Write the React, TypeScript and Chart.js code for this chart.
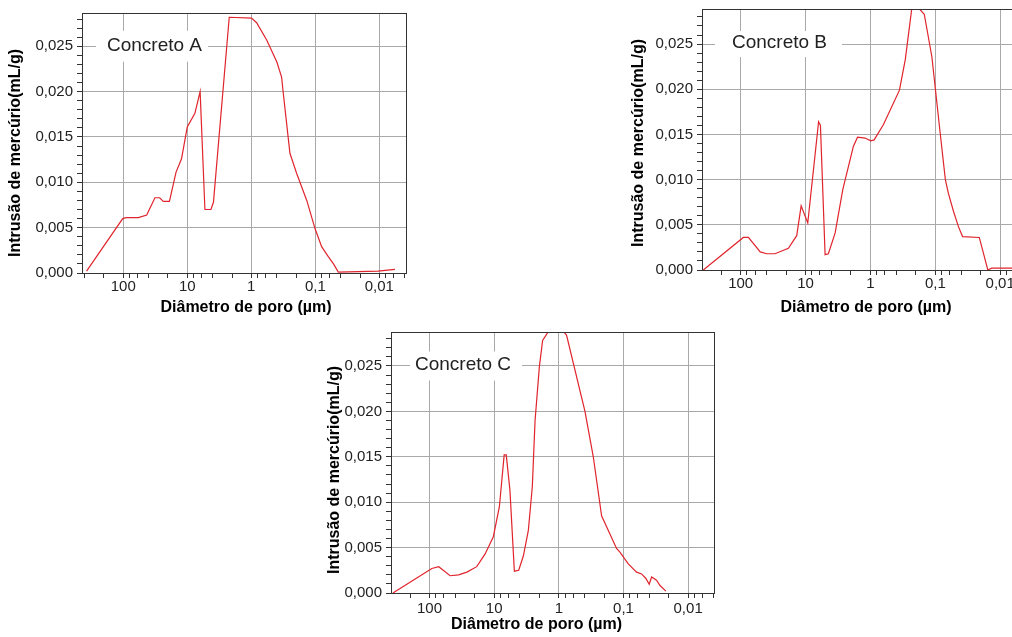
import React, { useEffect, useRef } from 'react';
import { Chart, registerables } from 'chart.js';

Chart.register(...registerables);

const FONT = '"Liberation Sans", Arial, Helvetica, sans-serif';
const AXIS = '#333333';
const GRID = '#a9a9a9';
const TEXT = '#222222';
const LINE = '#e0242c';

// Axis tick labels
const X_TICK_VALUES = [100, 10, 1, 0.1, 0.01];
const X_TICK_LABELS = ['100', '10', '1', '0,1', '0,01'];
const X_MINOR_MULTIPLES = [1, 2, 4, 6, 8];
const Y_TICK_VALUES = [0, 0.005, 0.01, 0.015, 0.02, 0.025];
const Y_TICK_LABELS = ['0,000', '0,005', '0,010', '0,015', '0,020', '0,025'];
const Y_MINOR_STEP = 0.001;

const X_TITLE = 'Diâmetro de poro (µm)';
const Y_TITLE = 'Intrusão de mercúrio(mL/g)';
const LABEL_LEVEL = 0.025;

// Concreto A
const A_DIAM = [374, 102, 90, 58, 43, 32, 27, 23.7, 19, 15, 12.3, 10, 7.6, 6.3, 5.3, 4.27, 3.9, 2.21, 0.99, 0.826, 0.575, 0.40, 0.336, 0.316, 0.249, 0.196, 0.136, 0.101, 0.0796, 0.0627, 0.052, 0.0437, 0.0105, 0.0057];
const A_INTR = [0.0002, 0.0060, 0.0061, 0.0061, 0.0064, 0.0083, 0.0083, 0.0079, 0.0079, 0.0111, 0.0126, 0.0161, 0.0176, 0.0200, 0.0070, 0.0070, 0.0078, 0.0282, 0.0281, 0.0276, 0.0257, 0.0233, 0.0216, 0.0198, 0.0132, 0.0110, 0.0080, 0.0049, 0.0029, 0.0018, 0.0010, 0.0001, 0.0002, 0.0004];

// Concreto B
const B_DIAM = [377, 91, 76, 50, 39.7, 29.6, 18.4, 13.7, 11.7, 9.25, 6.3, 5.9, 5.0, 4.45, 3.5, 2.67, 1.83, 1.58, 1.21, 0.99, 0.877, 0.63, 0.357, 0.29, 0.23, 0.182, 0.148, 0.113, 0.084, 0.07, 0.063, 0.0525, 0.044, 0.038, 0.021, 0.0155, 0.0135, 0.004];
const B_INTR = [0, 0.0036, 0.0036, 0.0020, 0.0018, 0.0018, 0.0024, 0.0038, 0.0071, 0.0052, 0.0164, 0.0160, 0.0017, 0.0018, 0.0041, 0.0089, 0.0137, 0.0147, 0.0146, 0.0143, 0.0144, 0.0161, 0.0199, 0.0233, 0.0290, 0.0290, 0.0283, 0.0236, 0.0151, 0.0100, 0.0085, 0.0065, 0.0048, 0.0037, 0.0036, 0, 0.0002, 0.0002];

// Concreto C
const C_DIAM = [368, 92, 72, 48, 35.5, 26.4, 18.6, 13.8, 10.3, 8.3, 7.0, 6.5, 5.7, 4.87, 4.17, 3.53, 2.96, 2.57, 2.33, 2.0, 1.78, 1.45, 0.851, 0.76, 0.394, 0.293, 0.218, 0.128, 0.1135, 0.0843, 0.0627, 0.0525, 0.045, 0.04, 0.0367, 0.0308, 0.0274, 0.0221];
const C_INTR = [0, 0.0027, 0.0029, 0.0019, 0.0020, 0.0023, 0.0029, 0.0043, 0.0062, 0.0095, 0.0152, 0.0152, 0.0113, 0.0024, 0.0025, 0.0041, 0.0069, 0.0117, 0.0190, 0.0249, 0.0278, 0.0288, 0.0288, 0.0284, 0.0200, 0.0150, 0.0085, 0.0049, 0.0045, 0.0032, 0.0023, 0.0021, 0.0016, 0.00096, 0.00176, 0.0014, 0.00085, 0.0002];

type Cfg = {
  name: string;
  diam: number[];
  intr: number[];
  dMin: number;
  dMax: number;
  yMax: number;
  canvas: { left: number; top: number; w: number; h: number };
  yW: number;
  xH: number;
  padTop: number;
  padRight: number;
  tickPadX: number;
  box: { dx: number; w: number; h: number };
  textDx: number;
  xTitle: { dx: number; dy: number };
  yTitle: { dx: number; dy: number };
};

const CHARTS: Cfg[] = [
  {
    name: 'Concreto A', diam: A_DIAM, intr: A_INTR,
    dMin: 0.00383, dMax: 441, yMax: 0.02867,
    canvas: { left: 0, top: 0, w: 420, h: 322 },
    yW: 82, xH: 49, padTop: 13, padRight: 14, tickPadX: 0,
    box: { dx: 14, w: 112, h: 31 }, textDx: 25,
    xTitle: { dx: 2, dy: 35 }, yTitle: { dx: -66, dy: 10 },
  },
  {
    name: 'Concreto B', diam: B_DIAM, intr: B_INTR,
    dMin: 0.004, dMax: 395, yMax: 0.02888,
    canvas: { left: 620, top: -10, w: 420, h: 330 },
    yW: 82, xH: 50, padTop: 19, padRight: 14, tickPadX: 0,
    box: { dx: 13, w: 127, h: 26 }, textDx: 30,
    xTitle: { dx: 2, dy: 37.5 }, yTitle: { dx: -63, dy: 3.5 },
  },
  {
    name: 'Concreto C', diam: C_DIAM, intr: C_INTR,
    dMin: 0.00398, dMax: 394, yMax: 0.02874,
    canvas: { left: 300, top: 315, w: 430, h: 322 },
    yW: 91, xH: 44, padTop: 17, padRight: 16, tickPadX: 2,
    box: { dx: 19, w: 112, h: 29 }, textDx: 24,
    xTitle: { dx: -16, dy: 32 }, yTitle: { dx: -56, dy: 7.5 },
  },
];

const xIndex = (v: number) =>
  X_TICK_VALUES.findIndex((t) => Math.abs(Math.log10(t) - Math.log10(v)) < 1e-6);
const yIndex = (v: number) => Y_TICK_VALUES.findIndex((t) => Math.abs(t - v) < 1e-9);

function PoreChart({ cfg }: { cfg: Cfg }) {
  const ref = useRef<HTMLCanvasElement | null>(null);

  useEffect(() => {
    const canvas = ref.current;
    if (!canvas) return;

    const points = cfg.diam.map((d, i) => ({ x: d, y: cfg.intr[i] }));

    const xTicks: number[] = [];
    for (let k = -3; k <= 3; k++) {
      for (const m of X_MINOR_MULTIPLES) {
        const v = m * Math.pow(10, k);
        if (v >= cfg.dMin && v <= cfg.dMax) xTicks.push(v);
      }
    }
    xTicks.sort((a, b) => a - b);

    const yTicks: number[] = [];
    for (let i = 0; i * Y_MINOR_STEP <= cfg.yMax + 1e-12; i++) {
      yTicks.push(Math.round(i * Y_MINOR_STEP * 1e6) / 1e6);
    }

    const decor = {
      id: 'decor',
      beforeDatasetsDraw(chart: any) {
        const { ctx, chartArea, scales } = chart;
        const yc = scales.y.getPixelForValue(LABEL_LEVEL);
        ctx.save();
        ctx.fillStyle = '#ffffff';
        ctx.fillRect(chartArea.left + cfg.box.dx, yc - cfg.box.h / 2, cfg.box.w, cfg.box.h);
        ctx.fillStyle = TEXT;
        ctx.font = `19px ${FONT}`;
        ctx.textAlign = 'left';
        ctx.textBaseline = 'middle';
        ctx.fillText(cfg.name, chartArea.left + cfg.textDx, yc - 1);
        ctx.restore();
      },
      afterDatasetsDraw(chart: any) {
        const { ctx, chartArea: a } = chart;
        ctx.save();
        ctx.strokeStyle = AXIS;
        ctx.lineWidth = 1;
        ctx.strokeRect(
          Math.round(a.left) + 0.5,
          Math.round(a.top) + 0.5,
          Math.round(a.right - a.left),
          Math.round(a.bottom - a.top)
        );
        ctx.restore();
      },
      afterDraw(chart: any) {
        const { ctx, chartArea: a } = chart;
        ctx.save();
        ctx.fillStyle = '#000000';
        ctx.font = `bold 16px ${FONT}`;
        ctx.textAlign = 'center';
        ctx.textBaseline = 'middle';
        ctx.fillText(X_TITLE, (a.left + a.right) / 2 + cfg.xTitle.dx, a.bottom + cfg.xTitle.dy);
        ctx.translate(a.left + cfg.yTitle.dx, (a.top + a.bottom) / 2 + cfg.yTitle.dy);
        ctx.rotate(-Math.PI / 2);
        ctx.fillText(Y_TITLE, 0, 0);
        ctx.restore();
      },
    };

    const chart = new Chart(canvas, {
      type: 'line',
      data: {
        datasets: [
          {
            label: cfg.name,
            data: points,
            borderColor: LINE,
            borderWidth: 1.2,
            pointRadius: 0,
            tension: 0,
            fill: false,
            clip: 0,
          } as any,
        ],
      },
      options: {
        animation: false,
        responsive: false,
        events: [],
        layout: { padding: { top: cfg.padTop, right: cfg.padRight, left: 0, bottom: 0 } },
        plugins: {
          legend: { display: false },
          tooltip: { enabled: false },
          title: { display: false },
        },
        scales: {
          x: {
            type: 'logarithmic',
            reverse: true,
            min: cfg.dMin,
            max: cfg.dMax,
            afterBuildTicks: (s: any) => {
              s.ticks = xTicks.map((v) => ({ value: v }));
            },
            afterFit: (s: any) => {
              s.height = cfg.xH;
            },
            ticks: {
              autoSkip: false,
              maxRotation: 0,
              minRotation: 0,
              padding: cfg.tickPadX,
              color: TEXT,
              font: { family: FONT, size: 15 },
              callback: (v: any) => {
                const i = xIndex(Number(v));
                return i >= 0 ? X_TICK_LABELS[i] : '';
              },
            },
            grid: {
              color: (c: any) => (c.tick && xIndex(c.tick.value) >= 0 ? GRID : 'rgba(0,0,0,0)'),
              tickColor: AXIS,
              tickLength: 5,
              lineWidth: 1,
            },
            border: { display: true, color: AXIS, width: 1 },
          } as any,
          y: {
            type: 'linear',
            min: 0,
            max: cfg.yMax,
            afterBuildTicks: (s: any) => {
              s.ticks = yTicks.map((v) => ({ value: v }));
            },
            afterFit: (s: any) => {
              s.width = cfg.yW;
            },
            ticks: {
              autoSkip: false,
              padding: 4,
              color: TEXT,
              font: { family: FONT, size: 15 },
              callback: (v: any) => {
                const i = yIndex(Number(v));
                return i >= 0 ? Y_TICK_LABELS[i] : '';
              },
            },
            grid: {
              color: (c: any) => (c.tick && yIndex(c.tick.value) >= 0 ? GRID : 'rgba(0,0,0,0)'),
              tickColor: AXIS,
              tickLength: 5,
              lineWidth: 1,
            },
            border: { display: true, color: AXIS, width: 1 },
          } as any,
        },
      },
      plugins: [decor],
    } as any);

    return () => chart.destroy();
  }, [cfg]);

  return (
    <canvas
      ref={ref}
      width={cfg.canvas.w}
      height={cfg.canvas.h}
      style={{
        position: 'absolute',
        left: cfg.canvas.left,
        top: cfg.canvas.top,
        width: cfg.canvas.w,
        height: cfg.canvas.h,
        display: 'block',
      }}
    />
  );
}

export default function App() {
  return (
    <div
      style={{
        position: 'fixed',
        left: 0,
        top: 0,
        width: 1012,
        height: 637,
        overflow: 'hidden',
        background: '#ffffff',
      }}
    >
      {CHARTS.map((cfg) => (
        <PoreChart key={cfg.name} cfg={cfg} />
      ))}
    </div>
  );
}
